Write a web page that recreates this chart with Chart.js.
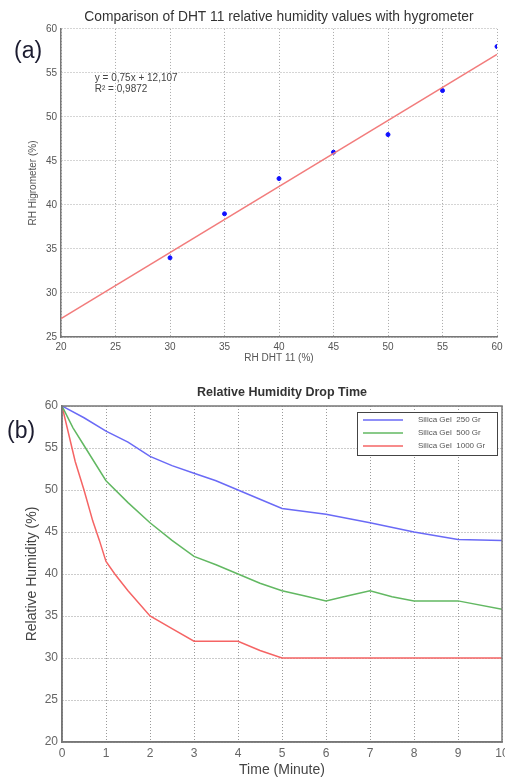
<!DOCTYPE html>
<html>
<head>
<meta charset="utf-8">
<script src="https://cdn.jsdelivr.net/npm/chart.js@4/dist/chart.umd.min.js"></script>
<style>
body { margin: 0; background: #fff; }
#page { position: relative; width: 505px; height: 780px; }
.panel { position: absolute; left: 0; width: 505px; }
#boxA { top: 0; height: 370px; }
#boxB { top: 370px; height: 410px; }
.tag { position: absolute; font-family: "Liberation Sans", Arial, sans-serif; font-size: 23px; color: #1c1c30; }
</style>
</head>
<body>
<div id="page">
  <div class="panel" id="boxA"><canvas id="chartA"></canvas></div>
  <div class="panel" id="boxB"><canvas id="chartB"></canvas></div>
  <div class="tag" style="left:14px;top:37px">(a)</div>
  <div class="tag" style="left:7px;top:417px">(b)</div>
</div>
<script>
// (a) DHT 11 vs hygrometer
const dhtValues = [30, 35, 40, 45, 50, 55, 60];
const hygroValues = [34, 39, 43, 46, 48, 53, 58];
const fitX = [20, 60];
const fitY = [27.1, 57.1];
const fitText = ['y = 0,75x + 12,107', 'R\u00b2 = 0,9872'];

// (b) drop time, per silica gel amount
const time250 = [0, 0.5, 1, 1.5, 2, 2.5, 3, 3.5, 4, 4.5, 5, 6, 7, 8, 9, 10];
const rh250 = [60, 58.6, 57, 55.7, 54, 52.9, 52, 51.1, 50, 48.9, 47.8, 47.1, 46.1, 45, 44.1, 44];
const time500 = [0, 0.25, 0.5, 1, 1.5, 2, 2.5, 3, 3.5, 4, 4.5, 5, 5.5, 6, 6.5, 7, 7.5, 8, 9, 10];
const rh500 = [60, 57.4, 55.3, 51.1, 48.5, 46.1, 44, 42.1, 41.1, 40, 38.9, 38, 37.4, 36.8, 37.4, 38, 37.3, 36.8, 36.8, 35.8];
const time1000 = [0, 0.3, 0.5, 0.7, 0.85, 1, 1.2, 1.5, 2, 2.5, 3, 4, 4.5, 5, 10];
const rh1000 = [60, 53.4, 50, 46.3, 44, 41.5, 40, 38, 35, 33.5, 32, 32, 30.9, 30, 30];
const seriesLabels = ['Silica Gel  250 Gr', 'Silica Gel  500 Gr', 'Silica Gel  1000 Gr'];

Chart.defaults.font.family = '"Liberation Sans", Arial, sans-serif';
Chart.defaults.animation = false;

function pts(xs, ys) {
    return xs.map((x, i) => ({ x: x, y: ys[i] }));
}

const fitLabel = {
    id: 'fitLabel',
    afterDatasetsDraw(chart) {
        const ctx = chart.ctx;
        const x = chart.scales.x.getPixelForValue(23.1);
        const y = chart.scales.y.getPixelForValue(54.4);
        ctx.save();
        ctx.fillStyle = '#444';
        ctx.font = '10px "Liberation Sans"';
        ctx.textBaseline = 'middle';
        fitText.forEach((t, i) => ctx.fillText(t, x, y + i * 11));
        ctx.restore();
    }
};

new Chart(document.getElementById('chartA'), {
    type: 'scatter',
    data: {
        datasets: [{
            data: pts(fitX, fitY),
            showLine: true,
            borderColor: '#f27c7c',
            borderWidth: 1.5,
            pointRadius: 0
        }, {
            data: pts(dhtValues, hygroValues),
            backgroundColor: '#1010ff',
            borderColor: '#1010ff',
            pointRadius: 2
        }]
    },
    options: {
        responsive: true,
        maintainAspectRatio: false,
        layout: { padding: { left: 0, right: 8, top: 0, bottom: 0 } },
        plugins: {
            legend: { display: false },
            tooltip: { enabled: false },
            title: {
                display: true,
                fullSize: false,
                text: 'Comparison of DHT 11 relative humidity values with hygrometer',
                color: '#333',
                font: { size: 13.8, weight: 'normal' },
                padding: { top: 9, bottom: 3.4 }
            }
        },
        scales: {
            x: {
                type: 'linear', min: 20, max: 60,
                ticks: { stepSize: 5, color: '#555', font: { size: 10 }, padding: 4 },
                grid: { color: '#aaa', drawTicks: false },
                border: { color: '#777', width: 1.5, dash: [1, 2] },
                title: { display: true, text: 'RH DHT 11 (%)', color: '#555', font: { size: 10 }, padding: { top: 0, bottom: 6 } },
                afterFit: function(s) { s.height = 33; s.paddingLeft = 0; s.paddingRight = 0; }
            },
            y: {
                min: 25, max: 60,
                ticks: { stepSize: 5, color: '#555', font: { size: 10 }, padding: 4 },
                grid: { color: '#aaa', drawTicks: false },
                border: { color: '#777', width: 1.5, dash: [1, 2] },
                title: { display: true, text: 'RH Higrometer (%)', color: '#555', font: { size: 10 }, padding: { top: 27, bottom: 0 } },
                afterFit: function(s) { s.width = 61; s.paddingTop = 0; s.paddingBottom = 0; }
            }
        }
    },
    plugins: [fitLabel]
});

const boxAndLegend = {
    id: 'boxAndLegend',
    afterDraw(chart) {
        const ctx = chart.ctx;
        const a = chart.chartArea;
        ctx.save();
        ctx.strokeStyle = '#777';
        ctx.lineWidth = 1.5;
        ctx.strokeRect(a.left, a.top, a.right - a.left, a.bottom - a.top);
        const w = 140, h = 43;
        const x0 = Math.round(a.right - 5 - w), y0 = Math.round(a.top + 6);
        ctx.fillStyle = '#fff';
        ctx.fillRect(x0, y0, w, h);
        ctx.strokeStyle = '#444';
        ctx.lineWidth = 1;
        ctx.strokeRect(x0 + 0.5, y0 + 0.5, w, h);
        chart.data.datasets.forEach((ds, i) => {
            const yy = y0 + 8 + i * 13;
            ctx.strokeStyle = ds.borderColor;
            ctx.lineWidth = 1.5;
            ctx.beginPath();
            ctx.moveTo(x0 + 6, yy);
            ctx.lineTo(x0 + 46, yy);
            ctx.stroke();
            ctx.fillStyle = '#555';
            ctx.font = '8px "Liberation Sans"';
            ctx.textBaseline = 'middle';
            ctx.fillText(ds.label, x0 + 61, yy);
        });
        ctx.restore();
    }
};

new Chart(document.getElementById('chartB'), {
    type: 'line',
    data: {
        datasets: [{
            label: seriesLabels[0],
            data: pts(time250, rh250),
            borderColor: '#6a6af6',
            borderWidth: 1.5,
            pointRadius: 0
        }, {
            label: seriesLabels[1],
            data: pts(time500, rh500),
            borderColor: '#62b862',
            borderWidth: 1.5,
            pointRadius: 0
        }, {
            label: seriesLabels[2],
            data: pts(time1000, rh1000),
            borderColor: '#f56464',
            borderWidth: 1.5,
            pointRadius: 0
        }]
    },
    options: {
        responsive: true,
        maintainAspectRatio: false,
        layout: { padding: { left: 0, right: 3, top: 0, bottom: 0 } },
        plugins: {
            legend: { display: false },
            tooltip: { enabled: false },
            title: {
                display: true,
                fullSize: false,
                text: 'Relative Humidity Drop Time',
                color: '#333',
                font: { size: 12.5, weight: 'bold' },
                padding: { top: 15, bottom: 6 }
            }
        },
        scales: {
            x: {
                type: 'linear', min: 0, max: 10,
                ticks: { stepSize: 1, color: '#666', font: { size: 12 }, padding: 4 },
                grid: { color: '#999', drawTicks: false },
                border: { color: '#777', width: 1.5, dash: [1, 2] },
                title: { display: true, text: 'Time (Minute)', color: '#444', font: { size: 14 }, padding: { top: 0, bottom: 1.6 } },
                afterFit: function(s) { s.height = 38; s.paddingLeft = 0; s.paddingRight = 0; }
            },
            y: {
                min: 20, max: 60,
                ticks: { stepSize: 5, color: '#666', font: { size: 12 }, padding: 4 },
                grid: { color: '#999', drawTicks: false },
                border: { color: '#777', width: 1.5, dash: [1, 2] },
                title: { display: true, text: 'Relative Humidity (%)', color: '#444', font: { size: 14 }, padding: { top: 23.6, bottom: 0 } },
                afterFit: function(s) { s.width = 62; s.paddingTop = 0; s.paddingBottom = 0; }
            }
        }
    },
    plugins: [boxAndLegend]
});
</script>
</body>
</html>
